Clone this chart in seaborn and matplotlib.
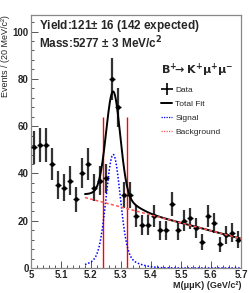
import numpy as np
import seaborn as sns
import matplotlib.pyplot as plt
from matplotlib.lines import Line2D
from matplotlib.ticker import MultipleLocator, AutoMinorLocator

# data: B+ -> K+ mu+ mu- candidates, 20 MeV bins
bin_centers = np.round(np.arange(5.01, 5.70, 0.02), 3)
counts = [51, 52, 52, 44, 35, 34, 37, 29, 40, 44,
          34, 37, 38, 80, 68, 31, 31, 22, 18, 18,
          22, 16, 16, 27, 16, 20, 21, 17, 11, 22,
          19, 10, 14, 15, 12]

# fit result
fit_lo, fit_hi = 5.18, 5.70
sig_mean = 5.274
sig_core_amp, sig_core_width = 43.0, 0.023
sig_tail_amp, sig_tail_width = 5.0, 0.06
bkg_at_lo, bkg_at_hi = 29.8, 12.4
window = [5.24, 5.32]
window_top = 64

yield_text = r'Yield:121$\pm$ 16 (142 expected)'
mass_text = r'Mass:5277 $\pm$ 3 MeV/c$^{\mathbf{2}}$'

sns.set_style('ticks')
plt.rcParams['font.family'] = ['Liberation Sans', 'DejaVu Sans']
plt.rcParams['mathtext.default'] = 'regular'

fig = plt.figure(figsize=(2.49, 2.93), dpi=100)
ax = fig.add_axes([31/249, 1-268/293, 210/249, 253/293])

m = np.linspace(fit_lo, fit_hi, 400)
sig = (sig_core_amp*np.exp(-0.5*((m-sig_mean)/sig_core_width)**2)
       + sig_tail_amp*np.exp(-0.5*((m-sig_mean)/sig_tail_width)**2))
bkg = bkg_at_lo + (bkg_at_hi-bkg_at_lo)*(m-fit_lo)/(fit_hi-fit_lo)
tot = sig + bkg

ax.vlines(window, 0, window_top, color='red', lw=1.0, zorder=2)

counts = np.array(counts, dtype=float)
ax.errorbar(bin_centers, counts, yerr=np.sqrt(counts), fmt='none',
            ecolor='#333333', elinewidth=1.6, capsize=0, zorder=3)
ax.errorbar(bin_centers, counts, xerr=0.01, fmt='o', ms=2.2,
            color='black', elinewidth=1.0, capsize=0, zorder=4)

sns.lineplot(x=m, y=tot, ax=ax, color='black', lw=1.4, zorder=5)
sns.lineplot(x=m, y=sig, ax=ax, color='blue', lw=1.1, ls=(0, (1, 1.2)), zorder=5)
sns.lineplot(x=m, y=bkg, ax=ax, color='#ff5555', lw=1.1, ls=(0, (2, 1.5)), zorder=6)

ax.set_xlim(5.0, 5.7)
ax.set_ylim(0, 107)
ax.xaxis.set_major_locator(MultipleLocator(0.1))
ax.xaxis.set_minor_locator(AutoMinorLocator(5))
ax.yaxis.set_major_locator(MultipleLocator(20))
ax.yaxis.set_minor_locator(AutoMinorLocator(5))
ax.set_xticks(np.arange(5.0, 5.71, 0.1))
ax.set_xticklabels(['5', '5.1', '5.2', '5.3', '5.4', '5.5', '5.6', '5.7'])
ax.tick_params(which='both', direction='in', color='#555555', width=0.7,
               labelsize=7, pad=1.5)
ax.tick_params(which='major', length=5)
ax.tick_params(which='minor', length=2.5)
for lab in ax.get_xticklabels() + ax.get_yticklabels():
    lab.set_fontweight('bold')
for sp in ax.spines.values():
    sp.set_visible(True)
    sp.set_color('#888888')
    sp.set_linewidth(0.9)

ax.set_xlabel('M(μμK) (GeV/c²)', loc='right', fontsize=6.5,
              fontweight='bold', labelpad=1)
ax.set_ylabel('Events / (20 MeV/c²)', loc='top', fontsize=6.5, labelpad=2)

ax.text(0.038, 0.946, yield_text, transform=ax.transAxes, fontsize=8.5,
        fontweight='bold', va='baseline')
ax.text(0.038, 0.870, mass_text, transform=ax.transAxes, fontsize=8.5,
        fontweight='bold', va='baseline')

handles = [
    Line2D([], [], color='black', marker='+', ms=8, mew=1.2, ls='none'),
    Line2D([], [], color='black', lw=1.4),
    Line2D([], [], color='blue', lw=0.9, ls=(0, (1, 1))),
    Line2D([], [], color='#ff5555', lw=0.9, ls=(0, (1, 1))),
]
labels = ['Data', 'Total Fit', 'Signal', 'Background']
leg = ax.legend(handles, labels, title=r'$\mathbf{B^{+}\!\!\rightarrow K^{+}\mu^{+}\mu^{-}}$',
                loc='upper left', bbox_to_anchor=(0.6, 0.83), frameon=False,
                fontsize=6, title_fontsize=8, handlelength=1.3,
                handletextpad=0.4, labelspacing=0.75, borderpad=0)
leg._legend_box.align = 'left'

fig.savefig('out.png', dpi=100)
